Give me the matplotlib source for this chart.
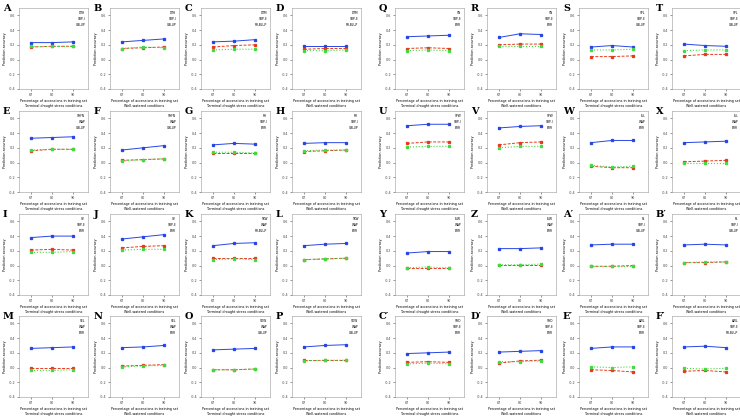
import matplotlib
matplotlib.use("Agg")
from matplotlib import pyplot as plt

# panel order: left block rows then right block rows
letters = ["A", "B", "C", "D", "E", "F", "G", "H",
           "I", "J", "K", "L", "M", "N", "O", "P",
           "Q", "R", "S", "T", "U", "V", "W", "X",
           "Y", "Z", "A\u2032", "B\u2032", "C\u2032", "D\u2032", "E\u2032", "F\u2032"]
traits = ["DTH", "DTH", "DTM", "DTM", "SHFN", "SHFN", "PH", "PH",
          "GY", "GY", "TKW", "TKW", "SEL", "SEL", "SDW", "SDW",
          "SN", "SN", "SPL", "SPL", "SPW", "SPW", "FLL", "FLL",
          "FLW", "FLW", "PL", "PL", "SHD", "SHD", "AWL", "AWL"]
models = ["SBP-I", "SBP-I", "SBP-II", "SBP-II", "WAP", "WAP", "SBP-I", "SBP-I",
          "SBP-II", "SBP-II", "WAP", "WAP", "WAP", "WAP", "WAP", "WAP",
          "SBP-II", "SBP-II", "SBP-II", "SBP-II", "SBP-I", "SBP-I", "WAP", "WAP",
          "WAP", "WAP", "SBP-I", "SBP-I", "SBP-II", "SBP-II", "SBP-II", "SBP-II"]
methods = ["GBLUP", "GBLUP", "RR-BLUP", "RR-BLUP", "GBLUP", "GBLUP", "BRR", "GBLUP",
           "BRR", "BRR", "RR-BLUP", "BRR", "BRR", "BRR", "GBLUP", "GBLUP",
           "BRR", "BRR", "GBLUP", "GBLUP", "BRR", "BRR", "BRR", "BRR",
           "BRR", "BRR", "GBLUP", "GBLUP", "BRR", "BRR", "BRR", "RR-BLUP"]
conditions = ["Terminal drought stress conditions", "Well-watered conditions"]

train_pct = ["67", "80", "90"]

blue = [[0.23, 0.23, 0.24], [0.24, 0.26, 0.28], [0.24, 0.25, 0.27], [0.18, 0.18, 0.18],
        [0.33, 0.34, 0.35], [0.17, 0.20, 0.23], [0.24, 0.26, 0.25], [0.26, 0.27, 0.27],
        [0.38, 0.40, 0.40], [0.36, 0.39, 0.42], [0.27, 0.30, 0.31], [0.27, 0.29, 0.30],
        [0.26, 0.27, 0.28], [0.27, 0.28, 0.30], [0.24, 0.25, 0.26], [0.28, 0.30, 0.31],
        [0.31, 0.32, 0.33], [0.30, 0.35, 0.34], [0.17, 0.19, 0.17], [0.21, 0.19, 0.18],
        [0.50, 0.52, 0.52], [0.47, 0.49, 0.50], [0.27, 0.30, 0.30], [0.27, 0.28, 0.29],
        [0.17, 0.19, 0.19], [0.23, 0.23, 0.24], [0.28, 0.29, 0.29], [0.28, 0.29, 0.28],
        [0.19, 0.20, 0.21], [0.21, 0.22, 0.23], [0.26, 0.28, 0.28], [0.28, 0.29, 0.27]]
red = [[0.17, 0.18, 0.18], [0.15, 0.16, 0.17], [0.17, 0.19, 0.20], [0.14, 0.15, 0.15],
       [0.16, 0.18, 0.18], [0.03, 0.04, 0.05], [0.13, 0.13, 0.13], [0.15, 0.16, 0.17],
       [0.21, 0.22, 0.21], [0.24, 0.26, 0.27], [0.10, 0.10, 0.10], [0.08, 0.09, 0.10],
       [-0.01, -0.01, -0.01], [0.02, 0.03, 0.04], [-0.03, -0.03, -0.02], [0.10, 0.10, 0.10],
       [0.15, 0.16, 0.15], [0.20, 0.21, 0.21], [0.04, 0.04, 0.05], [0.05, 0.07, 0.07],
       [0.26, 0.28, 0.28], [0.24, 0.27, 0.28], [-0.05, -0.07, -0.07], [0.01, 0.02, 0.03],
       [-0.03, -0.03, -0.03], [0.01, 0.01, 0.01], [-0.01, -0.01, 0.00], [0.04, 0.04, 0.05],
       [0.07, 0.08, 0.07], [0.06, 0.09, 0.10], [-0.03, -0.04, -0.06], [-0.05, -0.04, -0.06]]
green = [[0.18, 0.18, 0.18], [0.15, 0.17, 0.16], [0.13, 0.14, 0.14], [0.12, 0.12, 0.13],
         [0.17, 0.18, 0.18], [0.02, 0.04, 0.05], [0.14, 0.14, 0.13], [0.16, 0.17, 0.17],
         [0.18, 0.18, 0.19], [0.21, 0.22, 0.22], [0.08, 0.09, 0.08], [0.08, 0.09, 0.10],
         [-0.04, -0.04, -0.03], [0.01, 0.02, 0.03], [-0.03, -0.03, -0.02], [0.09, 0.10, 0.10],
         [0.12, 0.13, 0.12], [0.18, 0.18, 0.18], [0.13, 0.13, 0.14], [0.12, 0.13, 0.13],
         [0.21, 0.22, 0.22], [0.20, 0.22, 0.22], [-0.04, -0.06, -0.05], [-0.01, -0.01, -0.01],
         [-0.03, -0.02, -0.03], [0.01, 0.01, 0.02], [-0.01, -0.01, -0.01], [0.04, 0.05, 0.05],
         [0.05, 0.06, 0.05], [0.08, 0.08, 0.09], [0.01, 0.00, 0.01], [-0.01, -0.02, -0.01]]

W, H = 740, 416
col_left = [19, 110, 201, 292, 395, 487, 579, 672]
row_top = [8, 111, 214, 316]
ax_w, ax_h = 69, 81


def draw_panel(fig, i):
    block = i // 16
    row = (i % 16) // 4
    col = block * 4 + i % 4
    x0, y0 = col_left[col], row_top[row]
    ax = fig.add_axes([x0 / W, 1 - (y0 + ax_h) / H, ax_w / W, ax_h / H])
    xs = range(len(train_pct))
    ax.plot(xs, blue[i], "-s", color="#2846e6", lw=0.7, ms=1.4)
    ax.plot(xs, red[i], "--s", color="#e8391f", lw=0.7, ms=1.4, dashes=(3, 1.5))
    ax.plot(xs, green[i], ":s", color="#3fdc3f", lw=0.8, ms=1.4)
    ax.set_xlim(-0.57, 2.71)
    ax.set_ylim(-0.4, 0.7)
    ax.set_xticks(list(xs))
    ax.set_xticklabels(train_pct)
    ax.set_yticks([-0.4, -0.2, 0.0, 0.2, 0.4, 0.6])
    ax.set_yticklabels(["-0.4", "-0.2", "0.0", "0.2", "0.4", "0.6"])
    ax.tick_params(labelsize=2.4, length=1.5, width=0.4, pad=1.2, colors="#444444")
    for s in ax.spines.values():
        s.set_linewidth(0.4)
        s.set_color("#999999")
    ax.set_ylabel("Prediction accuracy", fontsize=2.4, labelpad=1.2)
    ax.set_xlabel("Percentage of accessions in training set\n" + conditions[i % 2],
                  fontsize=2.4, labelpad=1.8, linespacing=1.4)
    ax.text(0.96, 0.96, traits[i] + "\n" + models[i] + "\n" + methods[i],
            transform=ax.transAxes, ha="right", va="top", fontsize=2.2,
            linespacing=1.6)
    fig.text((x0 - 16) / W, 1 - (y0 - 4) / H, letters[i], ha="left", va="top",
             fontsize=7, fontweight="bold", family="DejaVu Serif")


if __name__ == "__main__":
    fig = plt.figure(figsize=(W / 100, H / 100), dpi=100)
    for i in range(len(letters)):
        draw_panel(fig, i)
    fig.savefig("out.png", dpi=100)
